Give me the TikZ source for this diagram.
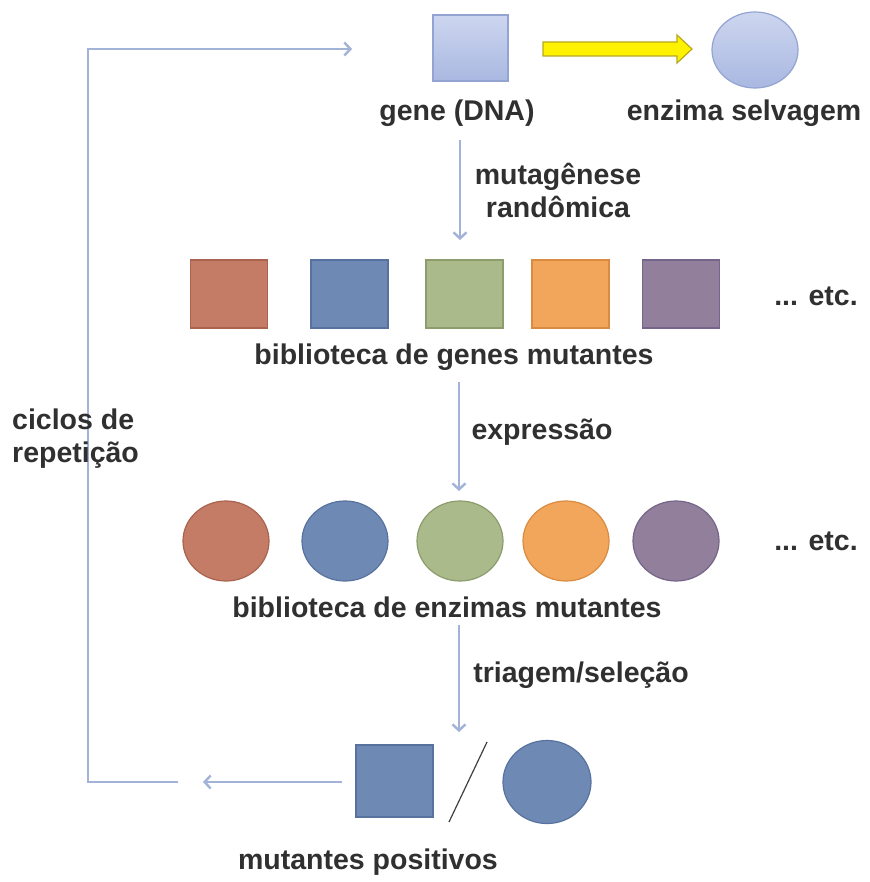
\documentclass[tikz,border=0pt]{standalone}
\usepackage{fontspec}
\setmainfont{Liberation Sans}
\usetikzlibrary{arrows.meta,shapes.geometric}
\definecolor{txt}{HTML}{303030}
\definecolor{conn}{HTML}{A3B2D7}
\definecolor{lblueT}{HTML}{CDD6EF}
\definecolor{lblueB}{HTML}{A9B8E1}
\definecolor{lblueD}{HTML}{93A4D2}
\definecolor{cred}{HTML}{C47C66}\definecolor{credD}{HTML}{A9634E}
\definecolor{cblue}{HTML}{6E8AB4}\definecolor{cblueD}{HTML}{57729E}
\definecolor{cgreen}{HTML}{ABBA8A}\definecolor{cgreenD}{HTML}{8C9C6C}
\definecolor{corange}{HTML}{F2A65B}\definecolor{corangeD}{HTML}{D98B42}
\definecolor{cpurple}{HTML}{917F9C}\definecolor{cpurpleD}{HTML}{76658A}
\definecolor{ylw}{HTML}{FFF200}\definecolor{ylwD}{HTML}{B8A820}
\tikzset{
  lbl/.style={text=txt, font=\fontsize{28.5}{33}\selectfont\bfseries, inner sep=0pt, align=center},
  conn/.style={draw=conn, line width=2.4pt, -{Straight Barb[length=6pt,width=13pt]}},
  connplain/.style={draw=conn, line width=2.4pt},
  sq/.style={rectangle, minimum width=77pt, minimum height=68pt, inner sep=0pt, line width=1.2pt},
  el/.style={ellipse, minimum width=86pt, minimum height=80pt, inner sep=0pt, line width=1.2pt},
}
\begin{document}
\begin{tikzpicture}[x=1pt,y=-1pt]
\useasboundingbox (0,0) rectangle (869,882);
\fill[white] (0,0) rectangle (869,882);

% top
\node[sq, minimum width=75pt, minimum height=66pt, draw=lblueD, top color=lblueT, bottom color=lblueB] (gene) at (470.5,48) {};
\node[el, minimum width=86pt, minimum height=76pt, draw=lblueD, top color=lblueT, bottom color=lblueB] (wt) at (755,50) {};
\node[lbl] (genel) at (457,113) {gene (DNA)};
\node[lbl] (wtl) at (744,113) {enzima selvagem};
\coordinate (ya) at (543,49);
\coordinate (yb) at (692,49);
\draw[draw=ylwD, fill=ylw, line width=1.2pt, line join=miter]
  (543,42) -- (677,42) -- (677,35) -- (692,49) -- (677,63) -- (677,56) -- (543,56) -- cycle;

% arrow 1
\coordinate (a1s) at (460,140);
\coordinate (a1e) at (460,240);
\draw[conn] (a1s) -- (a1e);
\node[lbl] (mut) at (558,191) {mutagênese\\randômica};

% squares row
\node[sq, fill=cred, draw=credD] (s1) at (229,294) {};
\node[sq, fill=cblue, draw=cblueD] (s2) at (349.5,294) {};
\node[sq, fill=cgreen, draw=cgreenD] (s3) at (464.5,294) {};
\node[sq, fill=corange, draw=corangeD] (s4) at (570.5,294) {};
\node[sq, fill=cpurple, draw=cpurpleD] (s5) at (681,294) {};
\node[lbl] (etc1) at (816,296) {... etc.};
\node[lbl] (libg) at (454,357) {biblioteca de genes mutantes};

% arrow 2
\coordinate (a2s) at (459,382);
\coordinate (a2e) at (459,491);
\draw[conn] (a2s) -- (a2e);
\node[lbl] (expr) at (542,432) {expressão};

% circles row
\node[el, fill=cred, draw=credD] (c1) at (226,541) {};
\node[el, fill=cblue, draw=cblueD] (c2) at (345,541) {};
\node[el, fill=cgreen, draw=cgreenD] (c3) at (460,541) {};
\node[el, fill=corange, draw=corangeD] (c4) at (566,541) {};
\node[el, fill=cpurple, draw=cpurpleD] (c5) at (676,541) {};
\node[lbl] (etc2) at (816,541) {... etc.};
\node[lbl] (libe) at (447,607) {biblioteca de enzimas mutantes};

% arrow 3
\coordinate (a3s) at (459,625);
\coordinate (a3e) at (459,732);
\draw[conn] (a3s) -- (a3e);
\node[lbl] (tri) at (581,675) {triagem/seleção};

% bottom
\node[sq, minimum width=77pt, minimum height=72pt, fill=cblue, draw=cblueD] (bs) at (394.5,781) {};
\node[el, minimum width=88pt, minimum height=83pt, fill=cblue, draw=cblueD] (bc) at (547,782) {};
\coordinate (sl1) at (487,742);
\coordinate (sl2) at (449,822);
\draw[line width=1.2pt, draw=black!75] (sl1) -- (sl2);
\node[lbl] (pos) at (368,862) {mutantes positivos};

% return arrow and loop
\coordinate (ba1) at (342,782);
\coordinate (ba2) at (203,782);
\draw[conn] (ba1) -- (ba2);
\coordinate (l1) at (178,782);
\coordinate (l2) at (88,782);
\coordinate (l3) at (88,49);
\coordinate (l4) at (352,49);
\draw[conn, line join=miter] (l1) -- (l2) -- (l3) -- (l4);
\node[lbl, align=left, anchor=west] (cic) at (12,439) {ciclos de\\repetição};
\end{tikzpicture}
\end{document}
